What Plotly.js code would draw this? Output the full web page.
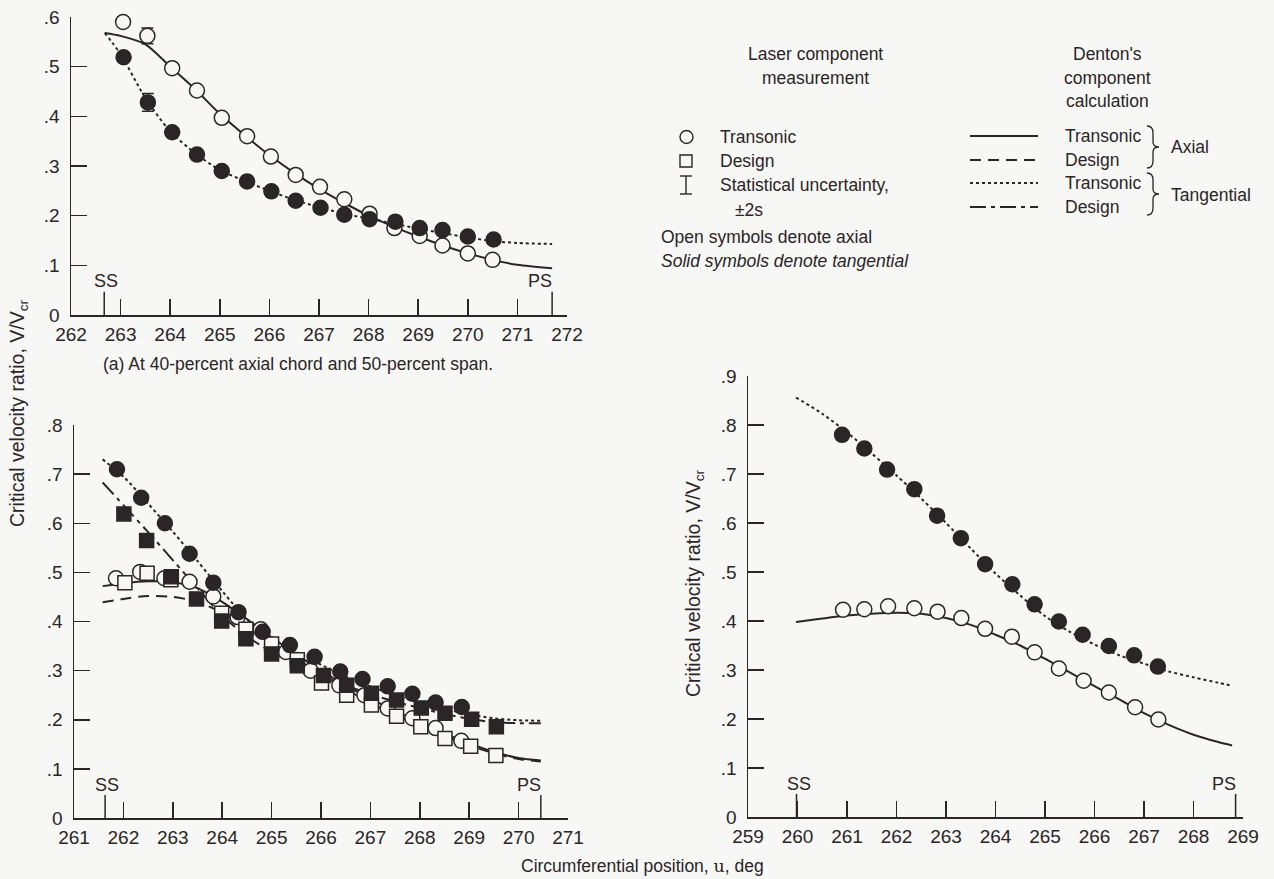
<!DOCTYPE html>
<html><head><meta charset="utf-8">
<script src="https://cdn.plot.ly/plotly-3.0.1.min.js"></script>
<style>html,body{margin:0;padding:0;background:#f7f7f5;} #chart{width:1274px;height:879px;}</style>
</head><body><div id="chart"></div>
<script>
// ---------- (a) 40-percent axial chord, 50-percent span ----------
const aOpenX  = [263.05,263.54,264.04,264.54,265.04,265.55,266.03,266.53,267.02,267.51,268.02,268.52,269.03,269.49,270.00,270.50];
const aOpenY  = [0.590,0.562,0.497,0.452,0.397,0.360,0.319,0.282,0.258,0.233,0.204,0.175,0.159,0.140,0.124,0.111];
const aSolidX = [263.06,263.55,264.04,264.54,265.04,265.55,266.04,266.53,267.03,267.51,268.02,268.54,269.03,269.49,270.00,270.52];
const aSolidY = [0.519,0.428,0.368,0.323,0.290,0.269,0.249,0.230,0.216,0.202,0.193,0.188,0.175,0.171,0.158,0.152];
const aErrOpenX = [263.54], aErrOpenY = [0.562], aErrOpen = [0.016];
const aErrSolidX = [263.55], aErrSolidY = [0.428], aErrSolid = [0.018];
const aCalcX     = [262.68,263.0,263.5,264.0,264.5,265.0,265.5,266.0,266.5,267.0,267.5,268.0,268.5,269.0,269.5,270.0,270.5,271.0,271.7];
const aCalcAxial = [0.568,0.562,0.545,0.500,0.455,0.405,0.362,0.322,0.286,0.254,0.226,0.200,0.178,0.158,0.140,0.124,0.111,0.101,0.094];
const aCalcTang  = [0.568,0.525,0.437,0.370,0.326,0.292,0.270,0.250,0.232,0.217,0.204,0.194,0.184,0.174,0.165,0.156,0.149,0.145,0.143];
const aSS = 262.67, aPS = 271.70;
const aXTicks = [262,263,264,265,266,267,268,269,270,271,272];
const aYTicks = [0,0.1,0.2,0.3,0.4,0.5,0.6];
const aYText  = ['0','.1','.2','.3','.4','.5','.6'];

// ---------- (b) lower left ----------
const bOpenCircX = [261.85,262.34,262.83,263.34,263.82,264.31,264.78,265.29,265.79,266.37,266.88,267.35,267.85,268.32,268.84];
const bOpenCircY = [0.488,0.501,0.488,0.481,0.451,0.409,0.384,0.338,0.300,0.270,0.250,0.223,0.203,0.183,0.157];
const bOpenSqX = [262.03,262.48,262.96,263.99,264.48,265.00,265.52,266.01,266.52,267.02,267.53,268.02,268.51,269.03,269.54];
const bOpenSqY = [0.479,0.498,0.485,0.417,0.384,0.354,0.322,0.275,0.250,0.230,0.207,0.186,0.162,0.146,0.127];
const bSolidCircX = [261.87,262.36,262.84,263.34,263.82,264.33,264.82,265.37,265.87,266.39,266.84,267.35,267.85,268.32,268.85];
const bSolidCircY = [0.710,0.652,0.600,0.538,0.479,0.419,0.379,0.352,0.328,0.298,0.283,0.268,0.253,0.235,0.226];
const bSolidSqX = [262.01,262.47,262.97,263.48,263.99,264.48,265.00,265.52,266.05,266.52,267.02,267.53,268.03,268.51,269.05,269.55];
const bSolidSqY = [0.619,0.565,0.491,0.446,0.401,0.365,0.334,0.310,0.290,0.270,0.254,0.240,0.224,0.213,0.201,0.186];
const bCalcX        = [261.58,262.0,262.5,263.0,263.5,264.0,264.5,265.0,265.5,266.0,266.5,267.0,267.5,268.0,268.5,269.0,269.5,270.0,270.45];
const bCalcAxTrans  = [0.472,0.478,0.482,0.480,0.468,0.440,0.405,0.368,0.333,0.300,0.270,0.243,0.218,0.195,0.172,0.152,0.135,0.122,0.117];
const bCalcAxDesign = [0.439,0.446,0.452,0.450,0.440,0.418,0.390,0.358,0.325,0.292,0.262,0.235,0.210,0.188,0.167,0.148,0.132,0.120,0.115];
const bCalcTgTrans  = [0.730,0.695,0.640,0.583,0.523,0.462,0.405,0.368,0.338,0.312,0.288,0.268,0.250,0.235,0.222,0.211,0.203,0.199,0.198];
const bCalcTgDesign = [0.683,0.637,0.582,0.525,0.468,0.412,0.370,0.338,0.312,0.290,0.270,0.252,0.237,0.224,0.212,0.202,0.195,0.193,0.193];
const bSS = 261.63, bPS = 270.45;
const bXTicks = [261,262,263,264,265,266,267,268,269,270,271];
const bYTicks = [0,0.1,0.2,0.3,0.4,0.5,0.6,0.7,0.8];
const bYText  = ['0','.1','.2','.3','.4','.5','.6','.7','.8'];

// ---------- (c) lower right ----------
const cOpenX  = [260.92,261.35,261.83,262.36,262.83,263.31,263.79,264.33,264.79,265.28,265.78,266.29,266.82,267.29];
const cOpenY  = [0.423,0.424,0.430,0.426,0.419,0.406,0.384,0.368,0.336,0.303,0.278,0.254,0.224,0.199];
const cSolidX = [260.90,261.35,261.81,262.36,262.82,263.30,263.79,264.34,264.79,265.28,265.76,266.29,266.80,267.28];
const cSolidY = [0.780,0.752,0.709,0.669,0.615,0.569,0.516,0.475,0.434,0.399,0.372,0.349,0.330,0.307];
const cCalcX     = [259.97,260.5,261.0,261.5,262.0,262.5,263.0,263.5,264.0,264.5,265.0,265.5,266.0,266.5,267.0,267.5,268.0,268.5,268.78];
const cCalcAxial = [0.398,0.405,0.411,0.415,0.417,0.415,0.406,0.392,0.372,0.350,0.323,0.295,0.267,0.240,0.212,0.188,0.168,0.153,0.146];
const cCalcTang  = [0.856,0.823,0.785,0.742,0.697,0.650,0.600,0.548,0.497,0.452,0.410,0.378,0.352,0.330,0.313,0.297,0.285,0.274,0.268];
const cSS = 259.98, cPS = 268.85;
const cXTicks = [259,260,261,262,263,264,265,266,267,268,269];
const cYTicks = [0,0.1,0.2,0.3,0.4,0.5,0.6,0.7,0.8,0.9];
const cYText  = ['0','.1','.2','.3','.4','.5','.6','.7','.8','.9'];

// ---------- styling ----------
const W = 1274, H = 879;
const INK = '#2b2527', BG = '#f7f7f5';
const FONT = 'Liberation Sans, Arial, Helvetica, sans-serif';
const TXT = 17.5;
const px = x => x / W, py = y => 1 - y / H;
const DASH = { solid:'solid', design:'11px,7px', dot:'3px,3px', dashdot:'16px,5px,4px,5px' };

function line(x, y, dash, xa, ya) {
  return {x, y, xaxis:xa, yaxis:ya, mode:'lines', line:{color:INK, width:2, dash, shape:'spline', smoothing:0.8}, hoverinfo:'skip', showlegend:false};
}
function pts(x, y, symbol, filled, xa, ya, size) {
  return {x, y, xaxis:xa, yaxis:ya, mode:'markers', showlegend:false, hoverinfo:'skip', cliponaxis:false,
    marker:{symbol, size:size||15, color: filled ? INK : BG, line:{color:INK, width:1.5}}};
}
function err(x, y, e, xa, ya) {
  return {x, y, xaxis:xa, yaxis:ya, mode:'markers', showlegend:false, hoverinfo:'skip', cliponaxis:false,
    marker:{size:1, color:'rgba(0,0,0,0)'},
    error_y:{type:'data', array:e, visible:true, color:INK, thickness:1.5, width:6}};
}

const traces = [
  line(aCalcX, aCalcAxial, DASH.solid, 'x', 'y'),
  line(aCalcX, aCalcTang, DASH.dot, 'x', 'y'),
  err(aErrOpenX, aErrOpenY, aErrOpen, 'x', 'y'),
  err(aErrSolidX, aErrSolidY, aErrSolid, 'x', 'y'),
  pts(aOpenX, aOpenY, 'circle', false, 'x', 'y'),
  pts(aSolidX, aSolidY, 'circle', true, 'x', 'y'),

  line(bCalcX, bCalcAxTrans, DASH.solid, 'x2', 'y2'),
  line(bCalcX, bCalcAxDesign, DASH.design, 'x2', 'y2'),
  line(bCalcX, bCalcTgTrans, DASH.dot, 'x2', 'y2'),
  line(bCalcX, bCalcTgDesign, DASH.dashdot, 'x2', 'y2'),
  pts(bOpenCircX, bOpenCircY, 'circle', false, 'x2', 'y2'),
  pts(bOpenSqX, bOpenSqY, 'square', false, 'x2', 'y2', 14),
  pts(bSolidCircX, bSolidCircY, 'circle', true, 'x2', 'y2'),
  pts(bSolidSqX, bSolidSqY, 'square', true, 'x2', 'y2', 14),

  line(cCalcX, cCalcAxial, DASH.solid, 'x3', 'y3'),
  line(cCalcX, cCalcTang, DASH.dot, 'x3', 'y3'),
  pts(cOpenX, cOpenY, 'circle', false, 'x3', 'y3'),
  pts(cSolidX, cSolidY, 'circle', true, 'x3', 'y3'),
];

const tickFont = {family:FONT, size:19, color:INK};
function xAxis(domain, ticks, yref) {
  return {domain, range:[ticks[0], ticks[ticks.length-1]], anchor:yref, showline:true, linecolor:INK, linewidth:1.5,
    ticks:'inside', ticklen:16, tickwidth:1.5, tickcolor:INK, tickmode:'array', tickvals:ticks, ticktext:ticks.map(String),
    showgrid:false, zeroline:false, tickfont:tickFont, fixedrange:true, ticklabelstandoff:2};
}
function yAxis(domain, ticks, text, xref) {
  return {domain, range:[0, ticks[ticks.length-1]], anchor:xref, showline:true, linecolor:INK, linewidth:1.5,
    ticks:'inside', ticklen:16, tickwidth:1.5, tickcolor:INK, tickmode:'array', tickvals:ticks, ticktext:text,
    showgrid:false, zeroline:false, tickfont:tickFont, fixedrange:true, ticklabelstandoff:6};
}

const layout = {
  width:W, height:H, margin:{l:0,r:0,t:0,b:0}, paper_bgcolor:BG, plot_bgcolor:BG,
  font:{family:FONT, size:TXT, color:INK}, showlegend:false,
  xaxis:  xAxis([px(71), px(567)], aXTicks, 'y'),
  yaxis:  yAxis([py(315), py(17)], aYTicks, aYText, 'x'),
  xaxis2: xAxis([px(74), px(568)], bXTicks, 'y2'),
  yaxis2: yAxis([py(818), py(425)], bYTicks, bYText, 'x2'),
  xaxis3: xAxis([px(748), px(1243)], cXTicks, 'y3'),
  yaxis3: yAxis([py(817), py(376)], cYTicks, cYText, 'x3'),
  shapes: [], annotations: []
};

// SS / PS markers
[[aSS,aPS,'x','y'],[bSS,bPS,'x2','y2'],[cSS,cPS,'x3','y3']].forEach(([ss,ps,xr,yr]) => {
  [ss, ps].forEach(v => layout.shapes.push({type:'line', xref:xr, yref:yr, x0:v, x1:v, y0:0, y1:0.047, line:{color:INK, width:1.5}}));
  layout.annotations.push({xref:xr, yref:yr, x:ss, y:0.068, text:'SS', showarrow:false, xanchor:'left', xshift:-12, yanchor:'middle', font:{family:FONT, size:18, color:INK}});
  layout.annotations.push({xref:xr, yref:yr, x:ps, y:0.068, text:'PS', showarrow:false, xanchor:'right', xshift:2, yanchor:'middle', font:{family:FONT, size:18, color:INK}});
});

function txt(x, y, text, anchor, extra) {
  layout.annotations.push(Object.assign({xref:'paper', yref:'paper', x:px(x), y:py(y), text, showarrow:false,
    xanchor:anchor||'left', yanchor:'middle', font:{family:FONT, size:TXT, color:INK}}, extra||{}));
}
// titles
txt(298, 364, '(a) At 40-percent axial chord and 50-percent span.', 'center');
txt(18, 414, 'Critical velocity ratio, V/V<sub>cr</sub>', 'center', {textangle:-90, font:{family:FONT, size:19.5, color:INK}});
txt(694, 584, 'Critical velocity ratio, V/V<sub>cr</sub>', 'center', {textangle:-90, font:{family:FONT, size:19.5, color:INK}});
txt(642, 866, 'Circumferential position, <span style="font-family:DejaVu Serif">u</span>, deg', 'center');

// legend – measurement block
txt(815, 54, 'Laser component', 'center');
txt(815, 78, 'measurement', 'center');
txt(718, 137, 'Transonic');
txt(718, 161, 'Design');
txt(718, 185, 'Statistical uncertainty,');
txt(733, 210, '±2s');
txt(659, 237, 'Open symbols denote axial');
txt(659, 261, '<i>Solid symbols denote tangential</i>');
layout.shapes.push({type:'circle', xref:'paper', yref:'paper', x0:px(680), x1:px(693), y0:py(143.5), y1:py(130.5), line:{color:INK, width:1.4}});
layout.shapes.push({type:'rect', xref:'paper', yref:'paper', x0:px(680), x1:px(692), y0:py(167), y1:py(155), line:{color:INK, width:1.4}});
[[686,686,176,194],[680,692,176,176],[680,692,194,194]].forEach(([x0,x1,y0,y1]) =>
  layout.shapes.push({type:'line', xref:'paper', yref:'paper', x0:px(x0), x1:px(x1), y0:py(y0), y1:py(y1), line:{color:INK, width:1.4}}));

// legend – calculation block
txt(1107, 54, "Denton's", 'center');
txt(1107, 78, 'component', 'center');
txt(1107, 101, 'calculation', 'center');
[[136, DASH.solid],[160, DASH.design],[183, DASH.dot],[207, DASH.dashdot]].forEach(([y, d]) =>
  layout.shapes.push({type:'line', xref:'paper', yref:'paper', x0:px(970), x1:px(1038), y0:py(y), y1:py(y), line:{color:INK, width:2, dash:d}}));
txt(1063, 136, 'Transonic');
txt(1063, 160, 'Design');
txt(1063, 183, 'Transonic');
txt(1063, 207, 'Design');
function brace(x, yTop, yBot) {
  const ym = (yTop + yBot) / 2, xm = x + 6, xt = x + 12;
  const P = (a, b) => px(a) + ',' + py(b);
  return 'M' + P(x, yTop) + ' Q' + P(xm, yTop) + ' ' + P(xm, yTop + 7) + ' L' + P(xm, ym - 5) + ' Q' + P(xm, ym) + ' ' + P(xt, ym) +
         ' Q' + P(xm, ym) + ' ' + P(xm, ym + 5) + ' L' + P(xm, yBot - 7) + ' Q' + P(xm, yBot) + ' ' + P(x, yBot);
}
layout.shapes.push({type:'path', xref:'paper', yref:'paper', path:brace(1147, 126, 168), line:{color:INK, width:1.3}});
layout.shapes.push({type:'path', xref:'paper', yref:'paper', path:brace(1147, 173, 215), line:{color:INK, width:1.3}});
txt(1169, 147, 'Axial');
txt(1169, 195, 'Tangential');

Plotly.newPlot('chart', traces, layout, {staticPlot:true, displayModeBar:false});
</script></body></html>
